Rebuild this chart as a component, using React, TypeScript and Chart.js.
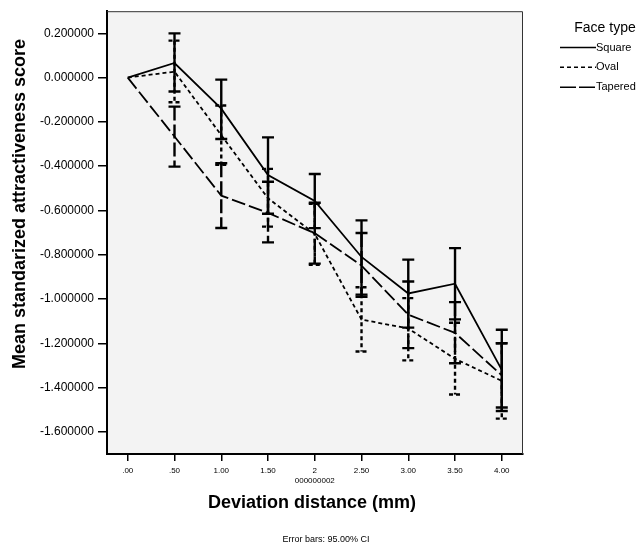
import React, { useEffect, useRef } from "react";
import { Chart, registerables } from "chart.js";

Chart.register(...registerables);

// ---- data ----
const xValues = [0, 0.5, 1, 1.5, 2, 2.5, 3, 3.5, 4];
const xTickLabels: (string | string[])[] = [".00", ".50", "1.00", "1.50", ["2", "000000002"], "2.50", "3.00", "3.50", "4.00"];
const yTickValues = [-1.6, -1.4, -1.2, -1.0, -0.8, -0.6, -0.4, -0.2, 0.0, 0.2];
const yTickLabels = ["-1.600000", "-1.400000", "-1.200000", "-1.000000", "-0.800000", "-0.600000", "-0.400000", "-0.200000", "0.000000", "0.200000"];

const seriesNames = ["Square", "Oval", "Tapered"];

const squareMean = [0, 0.066, -0.14, -0.44, -0.557, -0.81, -0.975, -0.931, -1.32];
const squareLow = [null, -0.063, -0.277, -0.615, -0.68, -0.98, -1.129, -1.092, -1.506];
const squareHigh = [null, 0.2, -0.009, -0.27, -0.435, -0.645, -0.822, -0.77, -1.139];

const ovalMean = [0, 0.027, -0.26, -0.545, -0.706, -1.093, -1.133, -1.27, -1.37];
const ovalLow = [null, -0.111, -0.394, -0.673, -0.845, -1.237, -1.277, -1.431, -1.54];
const ovalHigh = [null, 0.167, -0.126, -0.412, -0.57, -0.947, -0.996, -1.107, -1.2];

const taperedMean = [0, -0.266, -0.533, -0.611, -0.703, -0.849, -1.071, -1.153, -1.345];
const taperedLow = [null, -0.402, -0.679, -0.744, -0.84, -0.99, -1.222, -1.29, -1.49];
const taperedHigh = [null, -0.131, -0.387, -0.47, -0.565, -0.702, -0.921, -1.014, -1.2];

const xTitle = "Deviation distance (mm)";
const yTitle = "Mean standarized attractiveness score";
const footnote = "Error bars: 95.00% CI";
const legendTitle = "Face type";

// ---- styles ----
const FONT = "'Liberation Sans', Arial, Helvetica, sans-serif";
const dashes: number[][] = [[], [4, 3], [14, 4]];
const means = [squareMean, ovalMean, taperedMean];
const lows = [squareLow, ovalLow, taperedLow];
const highs = [squareHigh, ovalHigh, taperedHigh];

const bgPlugin = {
  id: "bgPlugin",
  beforeDraw(chart: any) {
    const { ctx, chartArea: a } = chart;
    ctx.save();
    ctx.fillStyle = "#f3f3f3";
    ctx.fillRect(a.left, a.top, a.right - a.left, a.bottom - a.top);
    ctx.restore();
  },
  afterDraw(chart: any) {
    const { ctx, chartArea: a } = chart;
    ctx.save();
    ctx.strokeStyle = "#333";
    ctx.lineWidth = 1;
    ctx.beginPath();
    ctx.moveTo(a.left, a.top + 0.5);
    ctx.lineTo(a.right - 0.5, a.top + 0.5);
    ctx.lineTo(a.right - 0.5, a.bottom);
    ctx.stroke();
    ctx.restore();
  },
};

const errorBarPlugin = {
  id: "errorBarPlugin",
  afterDatasetsDraw(chart: any) {
    const { ctx } = chart;
    const xs = chart.scales.x;
    const ys = chart.scales.y;
    ctx.save();
    ctx.strokeStyle = "#000";
    ctx.lineWidth = 2.4;
    for (let s = 0; s < 3; s++) {
      ctx.setLineDash(dashes[s]);
      for (let i = 0; i < xValues.length; i++) {
        const lo = lows[s][i];
        const hi = highs[s][i];
        if (lo === null || hi === null) continue;
        const px = xs.getPixelForValue(xValues[i]);
        const pLo = ys.getPixelForValue(lo);
        const pHi = ys.getPixelForValue(hi);
        ctx.beginPath();
        ctx.moveTo(px, pHi);
        ctx.lineTo(px, pLo);
        ctx.moveTo(px - 6, pHi);
        ctx.lineTo(px + 6, pHi);
        ctx.moveTo(px - 6, pLo);
        ctx.lineTo(px + 6, pLo);
        ctx.stroke();
      }
    }
    ctx.restore();
  },
};

const annotationsPlugin = {
  id: "annotationsPlugin",
  afterDraw(chart: any) {
    const { ctx } = chart;
    ctx.save();
    ctx.fillStyle = "#000";
    // y title
    ctx.save();
    ctx.translate(20, 204);
    ctx.rotate(-Math.PI / 2);
    ctx.font = `bold 18px ${FONT}`;
    ctx.textAlign = "center";
    ctx.textBaseline = "middle";
    ctx.fillText(yTitle, 0, 0);
    ctx.restore();
    // x title
    ctx.font = `bold 18px ${FONT}`;
    ctx.textAlign = "center";
    ctx.textBaseline = "middle";
    ctx.fillText(xTitle, 312, 503);
    // footnote
    ctx.font = `9px ${FONT}`;
    ctx.fillText(footnote, 326, 540);
    // legend
    ctx.font = `14px ${FONT}`;
    ctx.fillText(legendTitle, 605, 28);
    const rows = [47.5, 67.3, 87.3];
    ctx.strokeStyle = "#000";
    ctx.lineWidth = 1.5;
    ctx.font = `11px ${FONT}`;
    ctx.textAlign = "left";
    for (let s = 0; s < 3; s++) {
      ctx.setLineDash(s === 2 ? [16, 3] : dashes[s]);
      ctx.beginPath();
      ctx.moveTo(560, rows[s]);
      ctx.lineTo(596, rows[s]);
      ctx.stroke();
      ctx.fillText(seriesNames[s], 596, rows[s]);
    }
    ctx.restore();
  },
};

export default function App() {
  const ref = useRef<HTMLCanvasElement | null>(null);
  useEffect(() => {
    if (!ref.current) return;
    const chart = new Chart(ref.current, {
      type: "line",
      data: {
        datasets: [2, 1, 0].map((s) => ({
          label: seriesNames[s],
          data: xValues.map((x, i) => ({ x, y: means[s][i] })),
          borderColor: "#000",
          borderWidth: 1.8,
          borderDash: dashes[s],
          pointRadius: 0,
          fill: false,
          tension: 0,
        })),
      },
      options: {
        responsive: false,
        animation: false,
        layout: { padding: { top: 10, right: 118, bottom: 0, left: 0 } },
        plugins: { legend: { display: false }, title: { display: false }, tooltip: { enabled: false } },
        scales: {
          x: {
            type: "linear",
            min: -0.222,
            max: 4.227,
            afterBuildTicks: (scale: any) => {
              scale.ticks = xValues.map((v) => ({ value: v }));
            },
            afterFit: (scale: any) => {
              scale.height = 94;
            },
            grid: { drawOnChartArea: false, drawTicks: true, tickLength: 7, color: "#000", lineWidth: 1.5 },
            border: { display: true, color: "#000", width: 2 },
            ticks: {
              color: "#000",
              font: { size: 8, family: FONT },
              padding: 5,
              maxRotation: 0,
              autoSkip: false,
              callback: (_v: any, i: number) => xTickLabels[i],
            },
          },
          y: {
            type: "linear",
            min: -1.7,
            max: 0.3,
            afterBuildTicks: (scale: any) => {
              scale.ticks = yTickValues.map((v) => ({ value: v }));
            },
            afterFit: (scale: any) => {
              scale.width = 107;
            },
            grid: { drawOnChartArea: false, drawTicks: true, tickLength: 9, color: "#000", lineWidth: 1.5 },
            border: { display: true, color: "#000", width: 2 },
            ticks: {
              color: "#000",
              font: { size: 12, family: FONT },
              padding: 4,
              autoSkip: false,
              callback: (_v: any, i: number) => yTickLabels[i],
            },
          },
        },
      },
      plugins: [bgPlugin, errorBarPlugin, annotationsPlugin],
    } as any);
    return () => chart.destroy();
  }, []);
  return (
    <div style={{ position: "fixed", left: 0, top: 0, width: 641, height: 548, background: "#fff" }}>
      <canvas ref={ref} width={641} height={548} style={{ display: "block" }} />
    </div>
  );
}
